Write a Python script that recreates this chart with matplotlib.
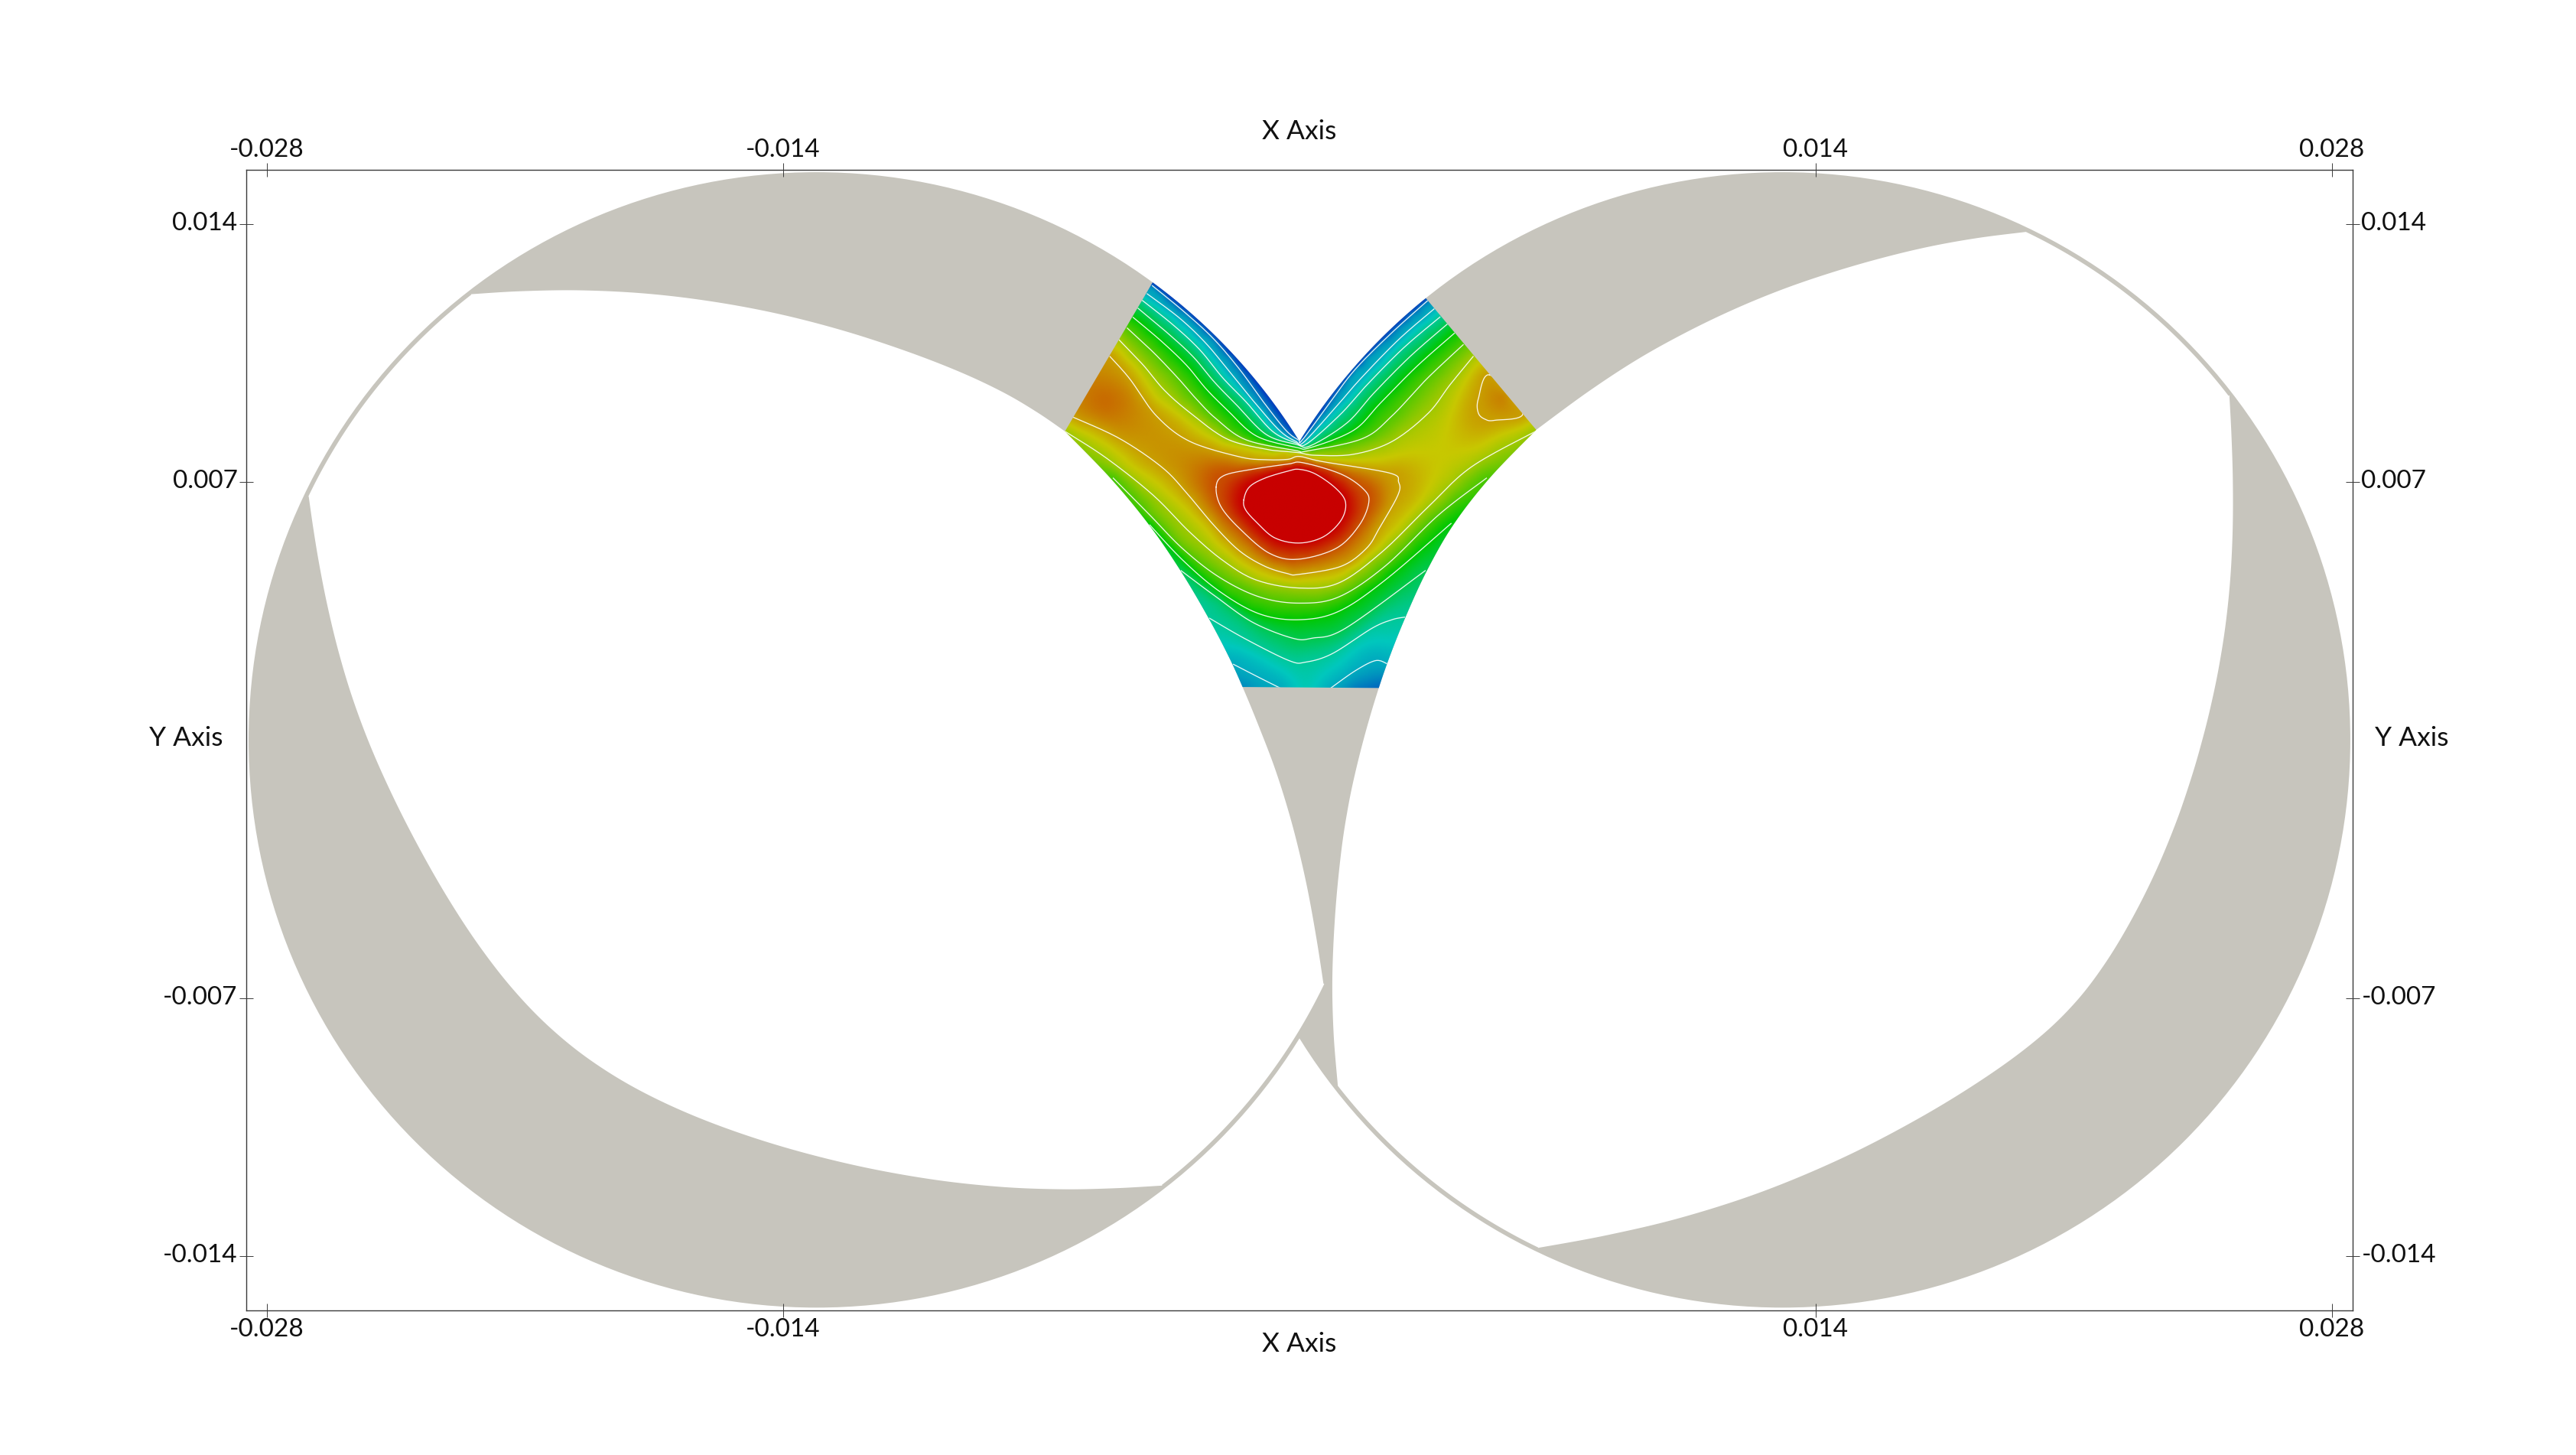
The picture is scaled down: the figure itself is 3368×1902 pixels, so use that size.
import numpy as np
import matplotlib
matplotlib.use("Agg")
import matplotlib.pyplot as plt
import matplotlib.tri as mtri
from matplotlib.colors import LinearSegmentedColormap
from matplotlib.patches import Circle, Polygon
from matplotlib.transforms import ScaledTranslation

plt.rcParams['font.family'] = ['Lato', 'DejaVu Sans']

# ---- values (millimetres; axes are in metres) ----
XTICKS = [-0.028, -0.014, 0.014, 0.028]
XTICKLABELS = ["-0.028", "-0.014", "0.014", "0.028"]
YTICKS = [-0.014, -0.007, 0.007, 0.014]
YTICKLABELS = ["-0.014", "-0.007", "0.007", "0.014"]
XLIM = 0.02857
YLIM = 0.01547

CENTRE_X = 13.1
RADIUS = 15.4
WALL_RADIUS = 15.28

# left bore outline
LV_TOP = [(-22.47,12.09),(-21.29,12.18),(-19.51,12.23),(-17.73,12.14),(-15.95,11.92),(-14.17,11.60),
          (-12.39,11.14),(-10.62,10.55),(-9.14,9.98),(-7.95,9.42),(-7.06,8.87),(-6.36,8.37)]
LV_RIGHT = [(-6.36,8.37),(-5.05,7.10),(-4.02,5.80),(-3.21,4.61),(-2.44,3.30),(-1.81,2.07),(-1.52,1.40),
            (-1.10,0.35),(-0.67,-0.68),(-0.33,-1.79),(-0.06,-2.81),(0.22,-3.92),(0.50,-5.59),(0.65,-6.61)]
LV_BOTTOM = [(-3.72,-12.09),(-4.87,-12.18),(-6.35,-12.24),(-8.02,-12.19),(-9.87,-12.02),(-12.10,-11.61),
             (-14.32,-11.05),(-16.36,-10.31),(-18.03,-9.57),(-19.32,-8.74),(-20.43,-7.81),(-21.36,-6.88),
             (-22.29,-5.59),(-23.12,-4.38),(-23.86,-2.99),(-24.60,-1.60),(-25.29,-0.12),(-25.73,1.18),
             (-26.10,2.38),(-26.40,3.68),(-26.62,4.88),(-26.77,5.81),(-26.87,6.60)]

# right bore outline
RV_TOP = [(19.70,13.78),(18.40,13.64),(17.08,13.40),(15.76,13.08),(14.43,12.69),(13.11,12.25),(11.79,11.71),
          (10.47,11.06),(9.14,10.35),(7.82,9.47),(6.42,8.41)]
RV_LEFT = [(6.42,8.41),(5.07,7.10),(4.13,5.87),(3.41,4.57),(2.87,3.34),(2.37,2.11),(2.15,1.40),(1.75,0.15),
           (1.51,-0.90),(1.32,-1.75),(1.14,-2.80),(0.95,-4.61),(0.86,-6.52),(0.90,-7.95),(1.04,-9.38)]
RV_BOTTOM = [(6.47,-13.78),(8.18,-13.52),(10.21,-13.09),(12.62,-12.38),(14.85,-11.38),(17.07,-10.23),
             (19.11,-8.90),(20.22,-8.04),(21.14,-7.18),(21.88,-6.14),(22.53,-4.99),(23.27,-3.66),(23.83,-2.23),
             (24.29,-0.80),(24.53,0.15),(24.69,0.76),(24.95,1.87),(25.15,3.08),(25.28,4.37),(25.34,5.67),
             (25.34,7.06),(25.28,8.45),(25.22,9.35)]

# coloured region corners
PATCH_LEFT_TOP = (-3.99,12.40)
PATCH_RIGHT_TOP = (3.42,11.99)
PATCH_FLOOR = 1.40

# contour lines: value, closed?, points
C_01 = [(-3.99,12.32),(-3.16,11.64),(-2.35,10.90),(-1.63,10.06),(-0.98,9.17),(-0.37,8.40),(-0.03,8.14),
        (0.08,8.14),(0.84,9.17),(1.52,10.06),(2.51,11.05),(3.47,11.91)]
C_02 = [(-4.13,12.10),(-3.25,11.44),(-2.53,10.75),(-1.86,9.94),(-1.23,9.17),(-0.55,8.40),(-0.10,8.10),
        (0.12,8.08),(0.98,9.02),(1.65,9.79),(2.69,10.86),(3.65,11.69)]
C_03 = [(-4.26,11.92),(-3.43,11.26),(-2.71,10.59),(-2.08,9.82),(-1.45,9.17),(-0.73,8.37),(-0.10,8.06),
        (0.21,8.04),(1.11,8.83),(1.83,9.63),(2.82,10.63),(3.81,11.47)]
C_04 = [(-4.38,11.71),(-3.57,11.03),(-2.89,10.40),(-2.31,9.71),(-1.72,9.10),(-0.91,8.29),(-0.10,8.02),
        (0.30,7.98),(1.29,8.60),(2.01,9.40),(3.00,10.40),(4.01,11.28)]
C_05 = [(-4.51,11.46),(-3.75,10.82),(-3.07,10.17),(-2.53,9.52),(-1.99,8.98),(-1.18,8.25),(-0.10,7.94),
        (0.30,7.93),(1.47,8.40),(2.19,9.13),(3.18,10.13),(4.20,11.03)]
C_06 = [(-4.67,11.17),(-3.97,10.52),(-3.30,9.82),(-2.80,9.25),(-2.26,8.71),(-1.45,8.14),(-0.10,7.85),
        (0.17,7.83),(1.70,8.17),(2.51,8.79),(3.45,9.79),(4.44,10.72)]
C_07 = [(-4.89,10.85),(-4.24,10.17),(-3.66,9.48),(-2.95,8.86),(-1.98,8.17),(-0.94,7.89),(-0.32,7.82),(-0.01,7.79),
        (0.44,7.72),(1.48,7.75),(2.52,8.10),(3.49,8.86),(4.08,9.63),(4.71,10.40)]
C_08 = [(-5.14,10.40),(-4.60,9.79),(-3.88,8.79),(-2.98,8.10),(-1.63,7.68),(-0.94,7.60),(-0.32,7.61),(-0.01,7.69),
        (0.62,7.55),(2.44,7.24),(2.69,6.99),(2.67,6.64),(2.17,5.75),(1.82,5.20),(1.13,4.71),(-0.01,4.49),(-0.32,4.51),
        (-0.94,4.71),(-1.63,5.13),(-2.32,5.82),(-3.02,6.65),(-3.71,7.38),(-4.87,8.17),(-6.13,8.75)]
C_08B = [(5.16,9.90),(4.85,9.25),(4.85,8.87),(5.03,8.70),(5.30,8.67),(6.06,8.87)]
C_09 = [(-2.26,6.86),(-2.05,7.17),(-1.29,7.34),(-0.32,7.48),(0.09,7.52),(1.13,7.21),(1.75,6.79),(1.88,6.44),
        (1.62,5.82),(1.00,5.20),(-0.04,4.90),(-0.81,5.06),(-1.57,5.68),(-2.12,6.31)]
C_10 = [(-1.51,6.51),(-1.36,6.86),(-0.94,7.10),(-0.32,7.29),(-0.01,7.34),(0.44,7.21),(0.99,6.82),(1.25,6.44),
        (1.13,5.96),(0.65,5.51),(-0.01,5.34),(-0.67,5.48),(-1.15,5.89),(-1.46,6.24)]
L_07 = [(-6.36,8.37),(-5.23,7.64),(-3.97,6.64),(-2.98,5.64),(-2.08,4.87),(-1.18,4.34),(-0.01,4.12),(1.07,4.26),
        (2.24,5.10),(3.50,6.33),(4.67,7.41),(6.42,8.38)]
L_06 = [(-5.05,7.10),(-4.06,6.10),(-3.16,5.18),(-2.17,4.41),(-1.09,3.88),(-0.01,3.71),(1.07,3.88),(2.33,4.72),
        (3.77,6.10),(5.07,7.10)]
L_05 = [(-4.06,5.83),(-3.16,4.87),(-2.17,4.03),(-1.09,3.42),(-0.01,3.26),(1.07,3.49),(2.33,4.34),(4.11,5.87)]
L_04 = [(-3.21,4.59),(-2.26,3.88),(-1.27,3.19),(-0.19,2.76),(0.35,2.76),(1.25,3.03),(3.41,4.59)]
L_03 = [(-2.44,3.30),(-1.45,2.73),(-0.28,2.15),(0.17,2.11),(0.89,2.34),(1.97,3.03),(2.51,3.26),(2.85,3.33)]
L_02A = [(-1.79,2.05),(-1.09,1.69),(-0.51,1.40)]
L_02B = [(0.84,1.40),(1.52,1.88),(2.06,2.15),(2.37,2.07)]

CONTOURS = [(0.1,False,C_01),(0.2,False,C_02),(0.3,False,C_03),(0.4,False,C_04),(0.5,False,C_05),
            (0.6,False,C_06),(0.7,False,C_07),(0.8,False,C_08),(0.8,True,C_08B),(0.9,True,C_09),(1.0,True,C_10),
            (0.7,False,L_07),(0.6,False,L_06),(0.5,False,L_05),(0.4,False,L_04),(0.3,False,L_03),
            (0.2,False,L_02A),(0.2,False,L_02B)]

# field values read between the contour lines: x, y, value
FIELD_EXTRA = [(-0.1,6.3,1.12),(-5.3,9.2,0.865),(-1.52,1.40,0.14),(0.17,1.40,0.26),
               (1.52,1.40,0.12),(2.15,1.40,0.08),(5.57,9.33,0.83)]

# colour scale nodes
CMAP_COLOURS = [(0, 60/255, 190/255), (0, 200/255, 190/255), (0, 200/255, 0),
                (200/255, 200/255, 0), (200/255, 0, 0)]
GREY = "#C7C5BD"
FRAME = "#3a3a3a"
MM = 1e-3


def relax(points, passes=1):
    p = np.asarray(points, float).copy()
    for _ in range(passes):
        p[1:-1] = 0.25*p[:-2] + 0.5*p[1:-1] + 0.25*p[2:]
    return p


def smooth(points, n=14, closed=False):
    p = np.asarray(points, float)
    if closed:
        q = np.vstack([p[-1], p, p[0], p[1]])
    else:
        q = np.vstack([p[0], p, p[-1]])
    out = []
    for i in range(1, len(q) - 2):
        p0, p1, p2, p3 = q[i-1], q[i], q[i+1], q[i+2]
        for s in np.linspace(0, 1, n, endpoint=False):
            out.append(0.5 * (2*p1 + (p2-p0)*s + (2*p0-5*p1+4*p2-p3)*s**2 + (3*p1-p0-3*p2+p3)*s**3))
    out.append(q[-2])
    return np.array(out)


def arc(cx, r, a, b, n=120):
    t0 = np.arctan2(a[1], a[0]-cx)
    t1 = np.arctan2(b[1], b[0]-cx)
    d = (t1 - t0 + np.pi) % (2*np.pi) - np.pi
    t = t0 + d * np.linspace(0, 1, n)
    return np.column_stack([cx + r*np.cos(t), r*np.sin(t)])


fig = plt.figure(figsize=(33.68, 19.02), dpi=100, facecolor="white")
ax = fig.add_axes([321.7/3368, 189.3/1902, 2754.6/3368, 1491.0/1902])

# casing discs
for cx in (-CENTRE_X, CENTRE_X):
    ax.add_patch(Circle((cx*MM, 0), RADIUS*MM, fc=GREY, ec="none", zorder=1))

# bores
lt, lr, lb_ = smooth(relax(LV_TOP, 1)), smooth(relax(LV_RIGHT, 1)), smooth(relax(LV_BOTTOM, 2))
rt, rl, rb_ = smooth(relax(RV_TOP, 1)), smooth(relax(RV_LEFT, 1)), smooth(relax(RV_BOTTOM, 2))
left_bore = np.vstack([lt, lr, arc(-CENTRE_X, WALL_RADIUS, LV_RIGHT[-1], LV_BOTTOM[0]),
                       lb_, arc(-CENTRE_X, WALL_RADIUS, LV_BOTTOM[-1], LV_TOP[0])])
right_bore = np.vstack([rt, rl, arc(CENTRE_X, WALL_RADIUS, RV_LEFT[-1], RV_BOTTOM[0]),
                        rb_, arc(CENTRE_X, WALL_RADIUS, RV_BOTTOM[-1], RV_TOP[0])])
for b in (left_bore, right_bore):
    ax.add_patch(Polygon(b*MM, closed=True, fc="white", ec="none", zorder=2))

# coloured region
cusp = (0.0, np.sqrt(RADIUS**2 - CENTRE_X**2))
left_arc = arc(-CENTRE_X, RADIUS, PATCH_LEFT_TOP, cusp)
right_arc = arc(CENTRE_X, RADIUS, cusp, PATCH_RIGHT_TOP)
lb = lr[lr[:, 1] >= PATCH_FLOOR]
rb = rl[rl[:, 1] >= PATCH_FLOOR]
patch_xy = np.vstack([left_arc, right_arc, rb, lb[::-1]])
clip = Polygon(patch_xy*MM, closed=True, transform=ax.transData, fc="none", ec="none")
ax.add_patch(clip)

# scalar field: contour lines and read values held fixed, smoothed in between
xs, ys, vs = [], [], []
for val, closed, pts in CONTOURS:
    s = smooth(pts, n=8, closed=closed)
    xs.extend(s[:, 0]); ys.extend(s[:, 1]); vs.extend([val]*len(s))
for s in (left_arc, right_arc):
    xs.extend(s[::3, 0]); ys.extend(s[::3, 1]); vs.extend([0.0]*len(s[::3]))
for x_, y_, v_ in FIELD_EXTRA:
    xs.append(x_); ys.append(y_); vs.append(v_)
xs, ys, vs = np.array(xs), np.array(ys), np.array(vs)
arr = np.round(np.column_stack([xs, ys]), 3)
arr, idx = np.unique(arr, axis=0, return_index=True)
vals = vs[idx]
tri = mtri.Triangulation(arr[:, 0], arr[:, 1])
interp = mtri.LinearTriInterpolator(tri, vals)


def lap(u):
    P = np.pad(u, 1, mode="edge")
    return P[:-2, 1:-1] + P[2:, 1:-1] + P[1:-1, :-2] + P[1:-1, 2:] - 4*u


X0, Y0 = -6.88, 0.96
NX, NY = 86, 76     # coarse grid size at step 0.16
Z = None
for level, (step, iters) in enumerate([(0.16, 9000), (0.08, 5000), (0.04, 2000)]):
    f = 2**level
    nx, ny = (NX-1)*f+1, (NY-1)*f+1
    gx = X0 + step*np.arange(nx)
    gy = Y0 + step*np.arange(ny)
    GX, GY = np.meshgrid(gx, gy)
    if Z is None:
        Z = np.ma.filled(interp(GX, GY), np.nan)
        for _ in range(40):
            miss = np.isnan(Z)
            if not miss.any():
                break
            P = np.pad(Z, 1, mode="edge")
            stack = np.stack([P[:-2, 1:-1], P[2:, 1:-1], P[1:-1, :-2], P[1:-1, 2:]])
            cnt = (~np.isnan(stack)).sum(axis=0)
            fill = np.where(cnt > 0, np.nansum(stack, axis=0)/np.maximum(cnt, 1), np.nan)
            Z[miss] = fill[miss]
        Z = np.nan_to_num(Z, nan=0.5)
    else:
        cgx = X0 + 2*step*np.arange(Z.shape[1])
        cgy = Y0 + 2*step*np.arange(Z.shape[0])
        Z = np.array([np.interp(gx, cgx, r) for r in Z])
        Z = np.array([np.interp(gy, cgy, c) for c in Z.T]).T
    ii = np.clip(np.round((ys-Y0)/step).astype(int), 0, ny-1)
    jj = np.clip(np.round((xs-X0)/step).astype(int), 0, nx-1)
    tot = np.zeros(Z.shape); cnt = np.zeros(Z.shape)
    np.add.at(tot, (ii, jj), vs)
    np.add.at(cnt, (ii, jj), 1.0)
    fixed = cnt > 0
    fixv = tot/np.maximum(cnt, 1)
    for _ in range(iters):
        Z -= 0.025*lap(lap(Z))
        Z[fixed] = fixv[fixed]

cmap = LinearSegmentedColormap.from_list("field", CMAP_COLOURS, N=512)
im = ax.imshow(Z, origin="lower", extent=[gx[0]*MM, gx[-1]*MM, gy[0]*MM, gy[-1]*MM], cmap=cmap, vmin=0, vmax=1,
               interpolation="bicubic", zorder=3, aspect="auto")
im.set_clip_path(clip)
ax.set_xlim(-XLIM, XLIM)
ax.set_ylim(-YLIM, YLIM)

for val, closed, pts in CONTOURS:
    s = smooth(pts, closed=closed)
    ln, = ax.plot(s[:, 0]*MM, s[:, 1]*MM, color="white", lw=0.95, alpha=0.9, zorder=4)
    ln.set_clip_path(clip)

# frame, ticks, labels
for sp in ax.spines.values():
    sp.set_linewidth(1.0)
    sp.set_color(FRAME)
    sp.set_zorder(6)
ax.set_xticks(XTICKS, XTICKLABELS)
ax.set_yticks(YTICKS, YTICKLABELS)
ax.tick_params(axis="both", which="major", direction="inout", length=13, width=0.7, color=FRAME,
               labelsize=24, labelcolor="#111111", top=True, right=True, labeltop=True, labelright=True,
               zorder=6)
ax.tick_params(axis="x", pad=1)
ax.tick_params(axis="y", pad=1.5)
shift = ScaledTranslation(0, 0.04, fig.dpi_scale_trans)
for t in ax.yaxis.get_major_ticks():
    for lab in (t.label1, t.label2):
        lab.set_transform(lab.get_transform() + shift)

tx = dict(fontsize=25.5, color="#111111", ha="center", va="center", transform=ax.transAxes)
ax.text(0.5, 1.0335, "X Axis", **tx)
ax.text(0.5, -0.0297, "X Axis", **tx)
ax.text(-0.02857, 0.5018, "Y Axis", **tx)
ax.text(1.02784, 0.5018, "Y Axis", **tx)

fig.savefig("out.png", dpi=100, facecolor="white")
